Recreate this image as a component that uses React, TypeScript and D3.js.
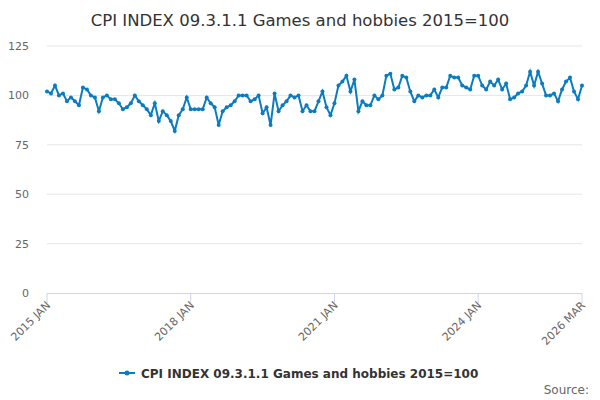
import * as d3 from 'd3';

const years = [2015, 2016, 2017, 2018, 2019, 2020, 2021, 2022, 2023, 2024, 2025, 2026];
const values: number[][] = [
  [102, 101, 105, 100, 101, 97, 99, 97, 95, 104, 103, 100],
  [99, 92, 99, 100, 98, 98, 96, 93, 94, 96, 100, 97],
  [95, 93, 90, 96, 87, 92, 90, 87, 82, 90, 93, 99],
  [93, 93, 93, 93, 99, 96, 94, 85, 92, 94, 95, 97],
  [100, 100, 100, 97, 98, 100, 91, 94, 85, 101, 92, 95],
  [97, 100, 99, 100, 92, 95, 92, 92, 97, 102, 94, 90],
  [96, 105, 107, 110, 102, 108, 92, 97, 95, 95, 100, 98],
  [100, 110, 111, 103, 104, 110, 109, 102, 97, 100, 99, 100],
  [100, 103, 99, 104, 104, 110, 109, 109, 105, 104, 103, 110],
  [110, 105, 103, 107, 105, 108, 103, 106, 98, 99, 101, 102],
  [105, 112, 105, 112, 106, 100, 100, 101, 97, 103, 107, 109],
  [110, 102, 98, 105].slice(1),
];
const yTicks = [0, 25, 50, 75, 100, 125];
const xTickLabels = ['2015 JAN', '2018 JAN', '2021 JAN', '2024 JAN', '2026 MAR'];
const xTickIdx = [0, 36, 72, 108, 134];
const title = 'CPI INDEX 09.3.1.1 Games and hobbies 2015=100';

const data = values.flat();

export default function App() {
  const W = 600, H = 400;
  const x = d3.scaleLinear().domain([0, data.length - 1]).range([47, 582]);
  const y = d3.scaleLinear().domain([0, 125]).range([293, 46]);
  const line = d3.line<number>().x((_, i) => x(i)).y(d => y(d));
  const font = "'DejaVu Sans', Verdana, sans-serif";
  const color = '#0a7cc1';
  return (
    <svg width={W} height={H} style={{ position: 'absolute', left: 0, top: 0, fontFamily: font }}>
      <rect width={W} height={H} fill="#fff" />
      <text x={W / 2} y={26} textAnchor="middle" fontSize={16.5} fill="#333">{title}</text>
      {yTicks.map(t => (
        <g key={t}>
          {t > 0 && <line x1={47} x2={582} y1={y(t)} y2={y(t)} stroke="#e6e6e6" />}
          <text x={29} y={y(t) + 4} textAnchor="end" fontSize={11} fill="#666">{t}</text>
        </g>
      ))}
      <line x1={47} x2={582} y1={293.5} y2={293.5} stroke="#ccd6eb" />
      {xTickIdx.map((idx, i) => (
        <g key={idx} transform={`translate(${x(idx)},293)`}>
          <line y1={0} y2={10} stroke="#ccd6eb" />
          <text transform="translate(4,13) rotate(-45)" textAnchor="end" fontSize={11} fill="#666">{xTickLabels[i]}</text>
        </g>
      ))}
      <path d={line(data) ?? ''} fill="none" stroke={color} strokeWidth={2} />
      {data.map((d, i) => <circle key={i} cx={x(i)} cy={y(d)} r={2} fill={color} />)}
      <g transform="translate(119,373)">
        <line x1={0} x2={16} stroke={color} strokeWidth={2} />
        <circle cx={8} r={2.5} fill={color} />
        <text x={22} y={4.5} fontSize={12} fontWeight="bold" fill="#333">{title}</text>
      </g>
      <text x={589} y={394} textAnchor="end" fontSize={12} fill="#666">Source:</text>
    </svg>
  );
}
